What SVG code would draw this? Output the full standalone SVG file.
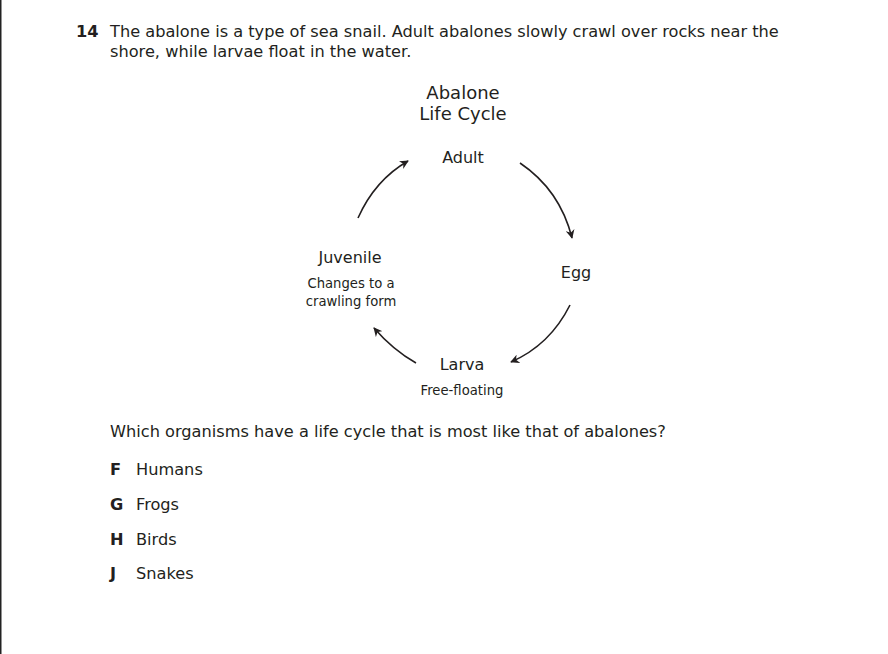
<svg xmlns="http://www.w3.org/2000/svg" width="888" height="654" viewBox="0 0 888 654">
<defs>
<style>
text{font-family:"DejaVu Sans",Verdana,sans-serif;fill:#231f20}
.q{font-size:16.2px}
.b{font-weight:bold}
.t{font-size:18px;text-anchor:middle}
.n{font-size:16px;text-anchor:middle}
.s{font-size:13.2px;text-anchor:middle}
.c{fill:none;stroke:#231f20;stroke-width:1.6;marker-end:url(#ah)}
</style>
<marker id="ah" viewBox="0 0 10 10" refX="9" refY="5" markerWidth="9" markerHeight="9" orient="auto" markerUnits="userSpaceOnUse">
<path d="M0,0 L10,5 L0,10 L3,5 Z" fill="#231f20"/>
</marker>
</defs>
<rect width="888" height="654" fill="#ffffff"/>
<rect x="0" y="0" width="1.5" height="654" fill="#222"/>
<g id="question">
<text class="q b" x="76" y="37">14</text>
<text class="q" x="110" y="37">The abalone is a type of sea snail. Adult abalones slowly crawl over rocks near the</text>
<text class="q" x="110" y="57">shore, while larvae float in the water.</text>
</g>
<g id="title">
<text class="t" x="463" y="99">Abalone</text>
<text class="t" x="463" y="120">Life Cycle</text>
</g>
<g id="adult"><text class="n" x="463" y="163">Adult</text></g>
<g id="egg"><text class="n" x="576" y="278">Egg</text></g>
<g id="larva">
<text class="n" x="462" y="370">Larva</text>
<text class="s" x="462" y="395">Free-floating</text>
</g>
<g id="juvenile">
<text class="n" x="350" y="263">Juvenile</text>
<text class="s" x="351" y="288">Changes to a</text>
<text class="s" x="351" y="306">crawling form</text>
</g>
<g id="connectors">
<path class="c" d="M358,218 Q375,180 408,161"/>
<path class="c" d="M520,163 Q560,190 572,238"/>
<path class="c" d="M570,305 Q550,345 511,362"/>
<path class="c" d="M416,363 Q393,350 374,328"/>
</g>
<g id="answers">
<text class="q" x="110" y="437">Which organisms have a life cycle that is most like that of abalones?</text>
<text class="q b" x="110" y="475">F</text><text class="q" x="136" y="475">Humans</text>
<text class="q b" x="110" y="510">G</text><text class="q" x="136" y="510">Frogs</text>
<text class="q b" x="110" y="545">H</text><text class="q" x="136" y="545">Birds</text>
<text class="q b" x="110" y="579">J</text><text class="q" x="136" y="579">Snakes</text>
</g>
</svg>
